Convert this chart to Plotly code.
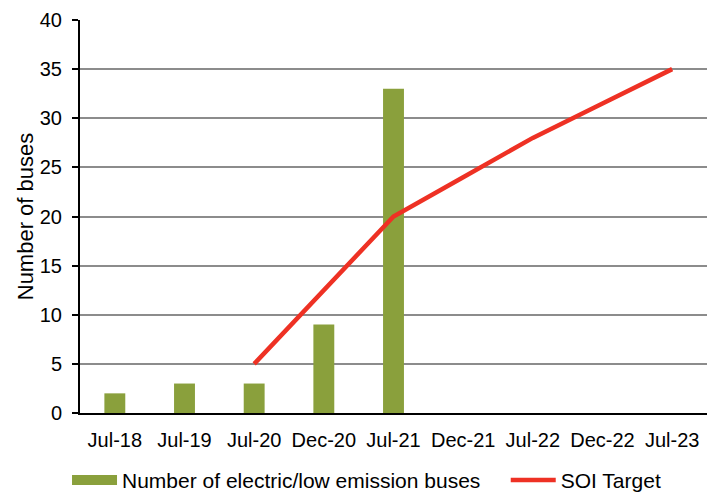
import plotly.graph_objects as go

categories = ["Jul-18", "Jul-19", "Jul-20", "Dec-20", "Jul-21", "Dec-21", "Jul-22", "Dec-22", "Jul-23"]
bus_counts = [2, 3, 3, 9, 33, None, None, None, None]
soi_target = [None, None, 5, 12.5, 20, 24, 28, 31.5, 35]

bus_label = "Number of electric/low emission buses"
target_label = "SOI Target"
bar_color = "#8AA03C"
line_color = "#EE3124"

font_family = "Liberation Sans, Arial, sans-serif"

fig = go.Figure()
fig.add_trace(go.Bar(
    x=categories, y=bus_counts,
    name=bus_label, showlegend=False,
    marker=dict(color=bar_color, line=dict(width=0)),
))
# legend entry with a wide swatch like the original
fig.add_trace(go.Scatter(
    x=[None], y=[None], name=bus_label, mode="lines",
    line=dict(color=bar_color, width=10), legend="legend",
))
fig.add_trace(go.Scatter(
    x=categories, y=soi_target,
    name=target_label, mode="lines",
    line=dict(color=line_color, width=4.5), legend="legend2",
))

legend_common = dict(orientation="h", xanchor="left", yref="container", y=0.043,
                     yanchor="middle", font=dict(size=21), itemwidth=45,
                     bgcolor="rgba(0,0,0,0)")

fig.update_layout(
    width=719, height=502,
    margin=dict(l=80, r=12, t=20, b=89, autoexpand=False),
    plot_bgcolor="white", paper_bgcolor="white",
    bargap=0.7,
    font=dict(family=font_family, size=20, color="#000000"),
    showlegend=True,
    legend=dict(x=-0.0207, **legend_common),
    legend2=dict(x=0.679, **legend_common),
)
fig.update_xaxes(
    type="category", showline=True, linecolor="#000000", linewidth=2,
    showgrid=False, ticks="", tickfont=dict(size=20), ticklabelstandoff=8,
    automargin=False,
)
fig.update_yaxes(
    range=[0, 40], dtick=5, showline=True, linecolor="#000000", linewidth=2,
    showgrid=True, gridcolor="#8C8C8C", gridwidth=1.8,
    ticks="outside", ticklen=6, tickcolor="#000000", tickwidth=1.5,
    zeroline=False, ticklabelstandoff=6, automargin=False,
    title=dict(text="Number of buses", font=dict(size=22), standoff=0),
    tickfont=dict(size=20),
)

fig.write_html("out.html")
